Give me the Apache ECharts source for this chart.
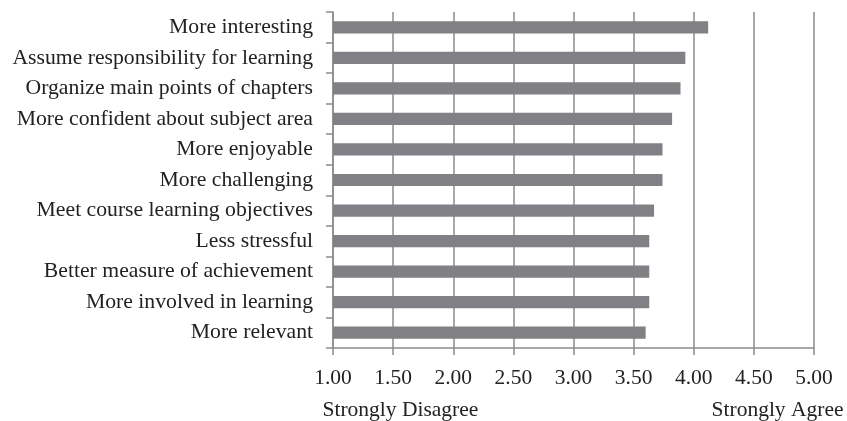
<!DOCTYPE html>
<html>
<head>
<meta charset="utf-8">
<script src="https://cdn.jsdelivr.net/npm/echarts@6/dist/echarts.min.js"></script>
<style>
  html, body { margin: 0; padding: 0; background: #ffffff; }
  #chart { width: 847px; height: 421px; }
</style>
</head>
<body>
<div id="chart"></div>
<script>
// Survey items, listed top to bottom
const categories = [
  'More interesting',
  'Assume responsibility for learning',
  'Organize main points of chapters',
  'More confident about subject area',
  'More enjoyable',
  'More challenging',
  'Meet course learning objectives',
  'Less stressful',
  'Better measure of achievement',
  'More involved in learning',
  'More relevant'
];

// Mean rating for each item (1 = Strongly Disagree, 5 = Strongly Agree)
const meanScores = [4.12, 3.93, 3.89, 3.82, 3.74, 3.74, 3.67, 3.63, 3.63, 3.63, 3.60];

// Scale end captions
const scaleLabels = ['Strongly Disagree', 'Strongly Agree'];

const serif = '"Liberation Serif", "DejaVu Serif", serif';
const axisGray = '#8c8c8c';
const textColor = '#222222';

const chart = echarts.init(document.getElementById('chart'), null, { renderer: 'canvas' });

chart.setOption({
  animation: false,
  backgroundColor: '#ffffff',
  grid: { left: 333, right: 33, top: 12, bottom: 73, containLabel: false },
  xAxis: {
    type: 'value',
    min: 1,
    max: 5,
    interval: 0.5,
    axisLine: { show: true, lineStyle: { color: axisGray, width: 1.5 } },
    axisTick: { show: true, length: 7, lineStyle: { color: axisGray, width: 1.5 } },
    splitLine: { show: true, lineStyle: { color: axisGray, width: 1.5 } },
    axisLabel: {
      margin: 19,
      color: textColor,
      fontFamily: serif,
      fontSize: 21.5,
      formatter: v => v.toFixed(2)
    }
  },
  yAxis: {
    type: 'category',
    data: categories,
    inverse: true,
    axisLine: { show: true, lineStyle: { color: axisGray, width: 1.5 } },
    axisTick: { show: true, length: 7, lineStyle: { color: axisGray, width: 1.5 } },
    axisLabel: {
      margin: 20,
      color: textColor,
      fontFamily: serif,
      fontSize: 21.7,
      padding: [2, 0, 0, 0]
    }
  },
  series: [{
    type: 'bar',
    data: meanScores,
    barWidth: '40%',
    itemStyle: { color: '#818185' },
    silent: true
  }]
});

// Scale captions sit beneath the two ends of the value axis
const leftX = chart.convertToPixel({ xAxisIndex: 0 }, 1);
const rightX = chart.convertToPixel({ xAxisIndex: 0 }, 5);
chart.setOption({
  graphic: [
    {
      type: 'text',
      left: leftX - 10.5,
      top: 399,
      style: { text: scaleLabels[0], font: '21.5px ' + serif, fill: textColor }
    },
    {
      type: 'text',
      right: 847 - rightX - 29.5,
      top: 399,
      style: { text: scaleLabels[1], font: '21.5px ' + serif, fill: textColor }
    }
  ]
});
</script>
</body>
</html>
